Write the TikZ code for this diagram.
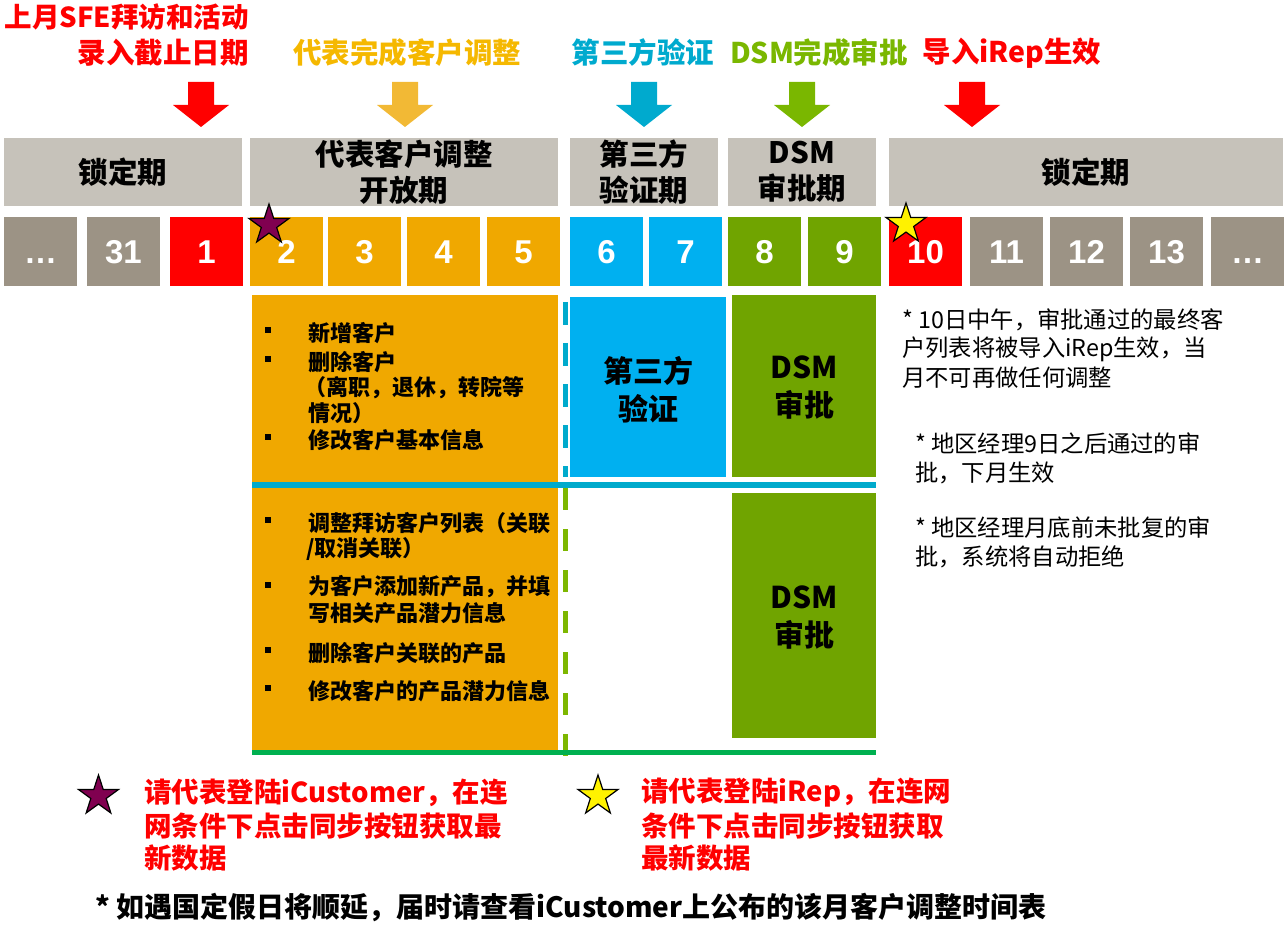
\documentclass[tikz,border=0pt]{standalone}
\usepackage{fontspec}
\setmainfont{Noto Sans CJK SC}
\newfontfamily\numfont{Liberation Sans}
\usetikzlibrary{shapes.geometric}
\definecolor{cRed}{RGB}{255,0,0}
\definecolor{cOrange}{RGB}{240,168,0}
\definecolor{cOrangeT}{RGB}{245,184,0}
\definecolor{cOrangeA}{RGB}{242,185,53}
\definecolor{cCyan}{RGB}{0,176,240}
\definecolor{cCyanT}{RGB}{0,170,206}
\definecolor{cGreen}{RGB}{112,164,0}
\definecolor{cGreenT}{RGB}{122,183,0}
\definecolor{cGray}{RGB}{156,147,133}
\definecolor{cBand}{RGB}{198,194,186}
\definecolor{cLineC}{RGB}{0,170,204}
\definecolor{cLineG}{RGB}{0,176,80}
\definecolor{cDashG}{RGB}{125,183,0}
\definecolor{cPurple}{RGB}{128,0,80}
\begin{document}
\begin{tikzpicture}[x=1pt,y=-1pt,
  hdr/.style={inner sep=0, font=\fontsize{28.5}{34}\selectfont\bfseries},
  band/.style={fill=cBand, inner sep=0, minimum height=68pt, align=center,
               font=\fontsize{29.5}{36}\selectfont\bfseries},
  day/.style={inner sep=0, minimum width=73pt, minimum height=69pt, text=white,
              text height=24pt, text depth=0pt,
              font=\numfont\fontsize{33}{33}\selectfont\bfseries},
  otext/.style={inner sep=0, anchor=west, font=\fontsize{22}{22}\selectfont\bfseries},
  bul/.style={fill=black, inner sep=0, minimum size=6pt},
  boxt/.style={inner sep=0, align=center, font=\fontsize{30}{38}\selectfont\bfseries},
  note/.style={inner sep=0, anchor=west, font=\fontsize{23.3}{23}\selectfont},
  legend/.style={inner sep=0, anchor=west, text=cRed, font=\fontsize{27.5}{27}\selectfont\bfseries},
  starmark/.style={star, star points=5, star point ratio=2.6, minimum size=42pt,
                   inner sep=0, draw=black, line width=1.2pt}
]
\useasboundingbox (0,0) rectangle (1288,925);

% ---- header labels
\node[hdr, anchor=east, text=cRed, font=\fontsize{27.5}{34}\selectfont\bfseries] (h1a) at (249,17) {上月SFE拜访和活动};
\node[hdr, anchor=east, text=cRed] (h1b) at (249,53) {录入截止日期};
\node[hdr, text=cOrangeT] (h2) at (407,53) {代表完成客户调整};
\node[hdr, text=cCyanT] (h3) at (643,53) {第三方验证};
\node[hdr, text=cGreenT] (h4) at (819,53) {DSM完成审批};
\node[hdr, text=cRed] (h5) at (1012,53) {导入iRep生效};

% ---- block arrows
\foreach \ax/\ac in {201/cRed,405/cOrangeA,644/cCyanT,802/cGreenT,972/cRed}{
  \fill[\ac] ({\ax-13},82) -- ({\ax+13},82) -- ({\ax+13},105) -- ({\ax+28},105)
     -- (\ax,127) -- ({\ax-28},105) -- ({\ax-13},105) -- cycle;
}

% ---- period band
\node[band, minimum width=238pt] (b1) at (123,172) {\raisebox{-3pt}{锁定期}};
\node[band, minimum width=308pt] (b2) at (404,172) {代表客户调整\\开放期};
\node[band, minimum width=148pt] (b3) at (644,172) {第三方\\验证期};
\node[band, minimum width=148pt] (b4) at (802,172) {DSM\\审批期};
\node[band, minimum width=394pt] (b5) at (1086,172) {\raisebox{-3pt}{锁定期}};

% ---- day boxes
\foreach \xl/\lab/\col [count=\i] in {4/…/cGray,87/31/cGray,170/1/cRed,250/2/cOrange,
   328/3/cOrange,407/4/cOrange,487/5/cOrange,570/6/cCyan,649/7/cCyan,728/8/cGreen,
   808/9/cGreen,889/10/cRed,970/11/cGray,1050/12/cGray,1130/13/cGray,1211/…/cGray}{
  \node[day, fill=\col] (d\i) at ({\xl+36.5},251.5) {\lab};
}

% ---- stars on days
\node[starmark, fill=cPurple] (s1) at (269,225) {};
\node[starmark, fill=yellow] (s2) at (906,224) {};

% ---- lower panels
\fill[cOrange] (252,295) rectangle (558,750);
\node[fill=cCyan, inner sep=0, minimum width=156pt, minimum height=180pt] (vbox) at (648,387) {};
\node[fill=cGreen, inner sep=0, minimum width=144pt, minimum height=182pt] (gbox1) at (804,386) {};
\node[fill=cGreen, inner sep=0, minimum width=144pt, minimum height=245pt] (gbox2) at (804,615.5) {};
\node[boxt] (vt) at (648,390) {第三方\\验证};
\node[boxt] (gt1) at (804,387.5) {DSM\\审批};
\node[boxt] (gt2) at (804,617.5) {DSM\\审批};

% dashed separators and horizontal rules
\draw[cLineC, line width=5pt, dash pattern=on 23pt off 18pt] (565,302) -- (565,477);
\draw[cDashG, line width=5pt, dash pattern=on 22pt off 19pt] (565,488) -- (565,757);
\draw[cLineC, line width=5.5pt] (252,485) -- (876,485);
\draw[cLineG, line width=5pt] (252,752) -- (876,752);

% ---- orange text (upper)
\node[bul] (u1) at (268,330) {};
\node[bul] (u2) at (268,359) {};
\node[bul] (u3) at (268,437) {};
\node[otext] (ut1) at (308,333) {新增客户};
\node[otext] (ut2) at (308,362) {删除客户};
\node[otext] (ut3) at (304,388) {（离职，退休，转院等};
\node[otext] (ut4) at (308,413) {情况）};
\node[otext] (ut5) at (308,440) {修改客户基本信息};

% ---- orange text (lower)
\node[bul] (w1) at (268,520) {};
\node[bul] (w2) at (268,585) {};
\node[bul] (w3) at (268,650) {};
\node[bul] (w4) at (268,688) {};
\node[otext] (wt1) at (308,523) {调整拜访客户列表（关联};
\node[otext] (wt2) at (306,549) {/取消关联）};
\node[otext] (wt3) at (308,587) {为客户添加新产品，并填};
\node[otext] (wt4) at (308,613) {写相关产品潜力信息};
\node[otext] (wt5) at (308,653) {删除客户关联的产品};
\node[otext] (wt6) at (308,691) {修改客户的产品潜力信息};

% ---- right notes
\node[note] (n1) at (902,320) {* 10日中午，审批通过的最终客};
\node[note] (n2) at (902,349) {户列表将被导入iRep生效，当};
\node[note] (n3) at (902,378) {月不可再做任何调整};
\node[note] (n4) at (915,444) {* 地区经理9日之后通过的审};
\node[note] (n5) at (915,473) {批，下月生效};
\node[note] (n6) at (915,528) {* 地区经理月底前未批复的审};
\node[note] (n7) at (915,557) {批，系统将自动拒绝};

% ---- legend
\node[starmark, fill=cPurple] (ls1) at (98.5,796) {};
\node[legend] (la1) at (144,793) {请代表登陆iCustomer，在连};
\node[legend] (la2) at (144,826) {网条件下点击同步按钮获取最};
\node[legend] (la3) at (144,858) {新数据};
\node[starmark, fill=yellow] (ls2) at (598,796) {};
\node[legend] (lb1) at (641,793) {请代表登陆iRep，在连网};
\node[legend] (lb2) at (641,826) {条件下点击同步按钮获取};
\node[legend] (lb3) at (641,858) {最新数据};

% ---- footnote
\node[inner sep=0, anchor=west, font=\fontsize{28}{28}\selectfont\bfseries] (foot) at (95,907)
  {* 如遇国定假日将顺延，届时请查看iCustomer上公布的该月客户调整时间表};
\end{tikzpicture}
\end{document}
